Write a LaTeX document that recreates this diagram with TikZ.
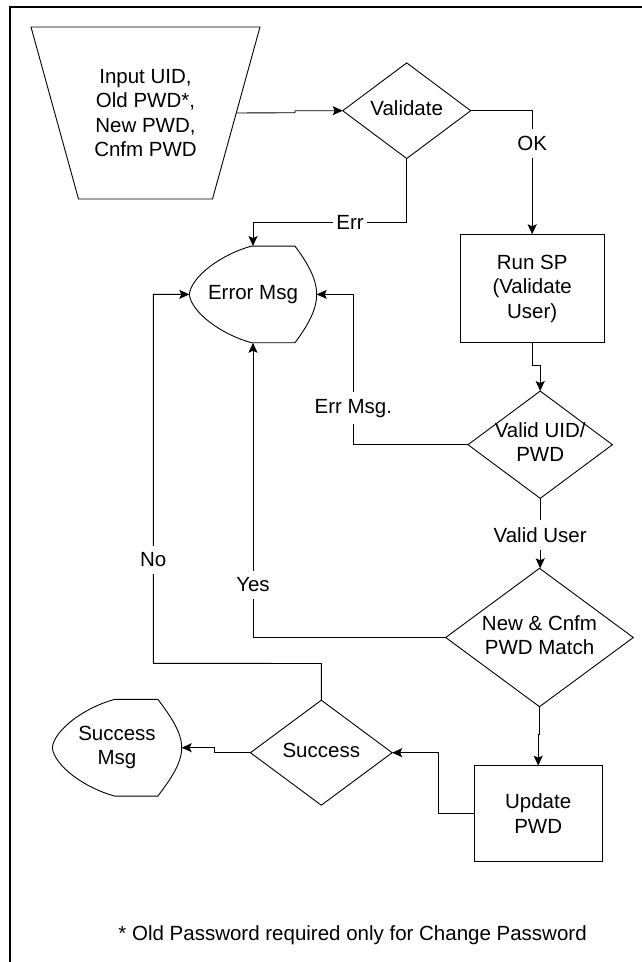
\documentclass[tikz,border=0pt]{standalone}
\usepackage{fontspec}
\setmainfont{Liberation Sans}
\usetikzlibrary{shapes.geometric,arrows.meta,calc}

% two-line text that takes no width, so a diamond keeps its given size
\newcommand\dtext[1]{\makebox[0pt]{\begin{tabular}{@{}c@{}}#1\end{tabular}}}

% "display" outline (pointed left end, rounded right end) around a holder node
\newcommand\drawdisplay[1]{%
  \draw[shapeline]
    ($(#1.north west)+(62.4,0)$) -- ($(#1.north west)+(105.6,0)$)
    .. controls +(12,16) and +(0,-16) .. (#1.east)
    .. controls +(0,16) and +(12,-16) .. ($(#1.south west)+(105.6,0)$)
    -- ($(#1.south west)+(62.4,0)$)
    .. controls +(-30,-8) and +(2,18) .. (#1.west)
    .. controls +(2,-18) and +(-30,8) .. ($(#1.north west)+(62.4,0)$) -- cycle;}

\begin{document}
\begin{tikzpicture}[x=1pt,y=-1pt,
  every node/.style={font=\fontsize{20.5}{24.5}\selectfont, align=center, text=black},
  shapeline/.style={draw=black, line width=0.9pt, line join=miter},
  box/.style={shapeline, rectangle, inner sep=0pt, outer sep=0pt},
  decision/.style={shapeline, diamond, inner sep=0pt, outer sep=0pt},
  holder/.style={rectangle, inner sep=0pt, outer sep=0pt, draw=none},
  plain/.style={draw=black, line width=0.9pt},
  flow/.style={plain, -{Stealth[length=10pt,width=9pt,inset=2pt]}},
  lbl/.style={fill=white, inner xsep=3pt, inner ysep=7pt},
  frameline/.style={draw=black, line width=2pt},
]
\useasboundingbox (0,0) rectangle (641,962);

% page frame (only top and left edges lie inside the page)
\draw[frameline] (10,970) -- (10,7) -- (645,7);

% ---- shapes ----
\node[holder, minimum width=229pt, minimum height=172pt] (inp) at (145.5,113)
  {Input UID,\\Old PWD*,\\New PWD,\\Cnfm PWD};
\draw[shapeline] (inp.north west) -- (inp.north east)
  -- ($(inp.south east)+(-47.5,0)$) -- ($(inp.south west)+(47.5,0)$) -- cycle;
\coordinate (inpR) at ($(inp.east)+(-23.75,0)$);

\node[decision, minimum width=128pt, minimum height=95.6pt] (val) at (406.7,110.7)
  {\dtext{Validate}};

\node[box, minimum width=144.3pt, minimum height=108.4pt] (run) at (532.2,288.5)
  {Run SP\\(Validate\\User)};

\node[holder, minimum width=127.4pt, minimum height=96.7pt] (err) at (253,294.4)
  {Error Msg};
\drawdisplay{err}

\node[decision, minimum width=144.4pt, minimum height=107.3pt] (vuid) at (540.2,444.7)
  {\dtext{Valid UID/\\PWD}};

\node[decision, minimum width=187.6pt, minimum height=138.4pt] (match) at (539.5,637.5)
  {\dtext{New \& Cnfm\\PWD Match}};

\node[box, minimum width=128.3pt, minimum height=96pt] (upd) at (538.2,813.7)
  {Update\\PWD};

\node[decision, minimum width=141.7pt, minimum height=105pt] (succ) at (321.3,752.7)
  {\dtext{Success}};

\node[holder, minimum width=129.4pt, minimum height=96.7pt] (smsg) at (117,747.7)
  {Success\\Msg};
\drawdisplay{smsg}

% ---- connectors ----
\draw[flow] (inpR) -- (295,112.7) -- (295,110.7) -- (val.west);
\draw[flow] (val.east) -| (run.north);
\draw[flow] (val.south) -- ++(0,64) -| (err.north);
\draw[flow] (run.south) -- ++(0,22.3) -| (vuid.north);
\draw[flow] (vuid.west) -- ++(-115,0) |- (err.east);
\draw[flow] (vuid.south) -- (vuid.south |- match.north);
\draw[flow] (match.west) -| (err.south);
\draw[flow] (match.south) -- ++(0,28) -| (upd.north);
\draw[flow] (upd.west) -- ++(-35.7,0) |- (succ.east);
\draw[flow] (succ.north) -- ++(0,-36.7) -- (153.3,663.3) |- (err.west);
\draw[flow] (succ.west) -- (214.3,752.7) -- (214.3,747.7) -- (smsg.east);

% ---- connector labels ----
\node[lbl] (lok) at (532.3,143.3) {OK};
\node[lbl] (lerr) at (350,222.3) {Err};
\node[lbl] (lerrmsg) at (353.3,408.3) {Err Msg.};
\node[lbl] (lvalid) at (540.2,535) {Valid User};
\node[lbl] (lyes) at (253,585) {Yes};
\node[lbl] (lno) at (153.3,560) {No};

% ---- footnote ----
\node (note) at (352.6,935) {* Old Password required only for Change Password};
\end{tikzpicture}
\end{document}
